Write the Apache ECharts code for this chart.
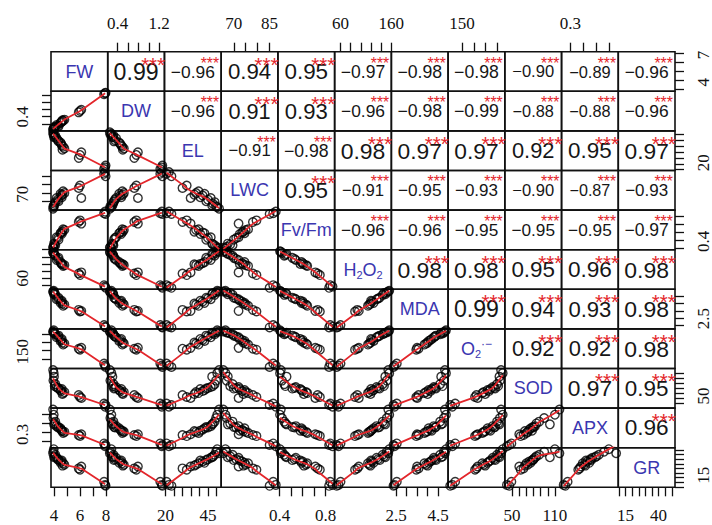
<!DOCTYPE html>
<html><head><meta charset="utf-8">
<script src="https://cdn.jsdelivr.net/npm/echarts@6/dist/echarts.min.js"></script>
<style>html,body{margin:0;padding:0;background:#fff}#c{width:712px;height:525px}</style>
</head><body><div id="c"></div>
<script>
// ---------------- data (21 samples) ----------------
const varNames = ['FW','DW','EL','LWC','Fv/Fm','H2O2','MDA','O2','SOD','APX','GR'];
const FW   = [7.85,7.93,7.97, 5.90,6.00,6.10, 4.80,4.70,4.65, 4.55,4.50,4.60, 4.30,4.20,4.35, 4.05,4.10,4.00, 3.93,3.98,3.95];
const DW   = [1.22,1.25,1.26, 0.72,0.76,0.79, 0.52,0.49,0.50, 0.45,0.43,0.47, 0.35,0.37,0.33, 0.31,0.32,0.30, 0.25,0.28,0.26];
const EL   = [20.6,22.0,23.5, 30.0,32.5,34.8, 38.0,39.5,37.0, 41.9,43.0,40.5, 45.0,46.7,44.0, 48.0,49.0,47.5, 51.6,50.5,49.8];
const LWC  = [86.5,87.6,85.0, 78.0,79.5,72.0, 75.0,76.0,74.0, 73.5,74.5,72.5, 71.0,72.0,70.0, 68.5,69.5,67.5, 65.6,66.5,67.0];
const FvFm = [0.84,0.86,0.83, 0.73,0.75,0.71, 0.63,0.64,0.61, 0.60,0.59,0.58, 0.53,0.54,0.51, 0.45,0.44,0.46, 0.41,0.403,0.42];
const H2O2 = [60,56,52.5, 93,88.5,96, 116.5,114,119, 122,125,120, 134,131,137, 145.5,143,148, 154,155.9,151];
const MDA  = [2.53,2.42,2.37, 3.57,3.46,3.50, 3.93,3.85,4.00, 4.14,4.05,4.20, 4.35,4.30,4.40, 4.72,4.60,4.65, 4.83,4.88,4.78];
const O2   = [121,109,100, 211,205,216, 242,236,248, 264,258,270, 285,280,290, 303,298,308, 315,322,310];
const SOD  = [49,42.7,46, 66,62,60, 72,70,68, 74,76,78, 80,82,79, 84,88,103, 116.4,110,95];
const APX  = [0.278,0.247,0.260, 0.371,0.360,0.380, 0.406,0.395,0.415, 0.430,0.446,0.420, 0.455,0.470,0.460, 0.500,0.520,0.490, 0.654,0.597,0.560];
const GR   = [15.5,12.1,11.1, 30.0,28.5,32.0, 34.0,35.5,33.0, 37.4,36.0,38.5, 40.0,41.5,39.0, 43.0,44.7,42.0, 46.4,50.8,48.0];
const columns = [FW, DW, EL, LWC, FvFm, H2O2, MDA, O2, SOD, APX, GR];

// tick values and the tick labels that are printed
const ticks = [
  [4,5,6,7,8], [0.4,0.6,0.8,1.0,1.2], [20,25,30,35,40,45,50], [70,75,80,85],
  [0.4,0.5,0.6,0.7,0.8], [60,80,100,120,140,160], [2.5,3,3.5,4,4.5], [150,200,250,300],
  [50,60,70,80,90,100,110], [0.3,0.4,0.5,0.6], [10,15,20,25,30,35,40,45,50]
];
const horizLabels = [[4,6,8],[0.4,1.2],[20,45],[70,85],[0.4,0.8],[60,160],[2.5,4.5],[150],[50,110],[0.3],[15,40]];
const vertLabels  = [[4,7],[0.4],[20],[70],[0.4],[60],[2.5],[150],[50],[0.3],[15]];

// correlation coefficients printed in the upper panels (row i, columns i+1..)
const corrRows = [
  [0.99,-0.96,0.94,0.95,-0.97,-0.98,-0.98,-0.90,-0.89,-0.96],
  [-0.96,0.91,0.93,-0.96,-0.98,-0.99,-0.88,-0.88,-0.96],
  [-0.91,-0.98,0.98,0.97,0.97,0.92,0.95,0.97],
  [0.95,-0.91,-0.95,-0.93,-0.90,-0.87,-0.93],
  [-0.96,-0.96,-0.95,-0.95,-0.95,-0.97],
  [0.98,0.98,0.95,0.96,0.98],
  [0.99,0.94,0.93,0.98],
  [0.92,0.92,0.98],
  [0.97,0.95],
  [0.96]
];
const signifRows = [
  ['***','***','***','***','***','***','***','***','***','***'],
  ['***','***','***','***','***','***','***','***','***'],
  ['***','***','***','***','***','***','***','***'],
  ['***','***','***','***','***','***','***'],
  ['***','***','***','***','***','***'],
  ['***','***','***','***','***'],
  ['***','***','***','***'],
  ['***','***','***'],
  ['***','***'],
  ['***']
];

// ---------------- layout ----------------
const N = 11;
const L = 51, T = 51.7, W = 624, H = 435.6;
const cw = W / N, ch = H / N;
const NAME_COLOR = '#3a36b0';
const RED = '#e3262b';

// R-style axis extent (4% padding)
function extent(a) {
  const mn = Math.min(...a), mx = Math.max(...a), d = mx - mn;
  return [mn - 0.04 * d, mx + 0.04 * d];
}
const ranges = columns.map(extent);

// R lowess (clowess port)
function lowest(x, y, n, xs, nleft, nright, rw, userw, range) {
  const h = Math.max(xs - x[nleft], x[nright] - xs);
  const h9 = 0.999 * h, h1 = 0.001 * h;
  const w = new Array(n).fill(0);
  let a = 0, j = nleft;
  while (j < n) {
    const r = Math.abs(x[j] - xs);
    if (r <= h9) {
      w[j] = r <= h1 ? 1 : Math.pow(1 - Math.pow(r / h, 3), 3);
      if (userw) w[j] *= rw[j];
      a += w[j];
    } else if (x[j] > xs) break;
    j++;
  }
  const nrt = j - 1;
  if (a <= 0) return null;
  for (j = nleft; j <= nrt; j++) w[j] /= a;
  if (h > 0) {
    a = 0;
    for (j = nleft; j <= nrt; j++) a += w[j] * x[j];
    let b = xs - a, c = 0;
    for (j = nleft; j <= nrt; j++) c += w[j] * (x[j] - a) * (x[j] - a);
    if (Math.sqrt(c) > 0.001 * range) {
      b /= c;
      for (j = nleft; j <= nrt; j++) w[j] *= (b * (x[j] - a) + 1);
    }
  }
  let s = 0;
  for (j = nleft; j <= nrt; j++) s += w[j] * y[j];
  return s;
}
function lowess(xIn, yIn, f, iter) {
  const n = xIn.length;
  const ord = xIn.map((v, i) => i).sort((a, b) => xIn[a] - xIn[b]);
  const x = ord.map(i => xIn[i]), y = ord.map(i => yIn[i]);
  const ns = Math.max(2, Math.min(n, Math.floor(f * n + 1e-7)));
  const range = x[n - 1] - x[0];
  const rw = new Array(n).fill(1), ys = new Array(n).fill(0);
  for (let it = 1; it <= iter + 1; it++) {
    let nleft = 0, nright = ns - 1;
    for (let i = 0; i < n; i++) {
      const xi = x[i];
      while (nright < n - 1) {
        const d1 = xi - x[nleft], d2 = x[nright + 1] - xi;
        if (d1 <= d2) break;
        nleft++; nright++;
      }
      const v = lowest(x, y, n, xi, nleft, nright, rw, it > 1, range);
      ys[i] = v === null ? y[i] : v;
    }
    if (it > iter) break;
    const absr = y.map((v, i) => Math.abs(v - ys[i]));
    const s = absr.slice().sort((a, b) => a - b);
    const m = Math.floor(n / 2);
    const med = n % 2 ? s[m] : (s[m - 1] + s[m]) / 2;
    const cmad = 6 * med;
    const sc = absr.reduce((a, b) => a + b, 0) / n;
    if (cmad < 1e-7 * sc) break;
    for (let i = 0; i < n; i++) {
      const r = absr[i];
      rw[i] = r <= 0.001 * cmad ? 1 : (r > 0.999 * cmad ? 0 : Math.pow(1 - Math.pow(r / cmad, 2), 2));
    }
  }
  return x.map((v, i) => [v, ys[i]]);
}

// ---------------- build option ----------------
const grids = [], xAxes = [], yAxes = [], series = [], graphics = [];
const labelFont = 'Liberation Serif';
for (let i = 0; i < N; i++) {
  for (let j = 0; j < N; j++) {
    const k = i * N + j;
    grids.push({
      left: L + j * cw, top: T + i * ch, width: cw, height: ch,
      show: true, borderColor: '#111', borderWidth: 1.6, backgroundColor: 'transparent',
      containLabel: false, outerBoundsMode: 'none'
    });
    const showX = (i === 0 && j % 2 === 1) || (i === N - 1 && j % 2 === 0);
    const showY = (j === 0 && i % 2 === 1) || (j === N - 1 && i % 2 === 0);
    xAxes.push({
      gridIndex: k, type: 'value', min: ranges[j][0], max: ranges[j][1],
      position: i === 0 ? 'top' : 'bottom',
      splitLine: { show: false }, axisLine: { show: false },
      axisTick: { show: showX, inside: false, length: 9, customValues: ticks[j], lineStyle: { color: '#111', width: 1.3 } },
      axisLabel: { show: showX, customValues: horizLabels[j], margin: 20, fontFamily: labelFont, fontSize: 17, color: '#111',
        formatter: v => String(v), hideOverlap: false, showMinLabel: true, showMaxLabel: true }
    });
    yAxes.push({
      gridIndex: k, type: 'value', min: ranges[i][0], max: ranges[i][1],
      position: j === 0 ? 'left' : 'right',
      splitLine: { show: false }, axisLine: { show: false },
      axisTick: { show: showY, inside: false, length: 9, customValues: ticks[i], lineStyle: { color: '#111', width: 1.3 } },
      axisLabel: { show: showY, customValues: vertLabels[i], margin: 20, rotate: 90, padding: [0, 0, 0, 14],
        fontFamily: labelFont, fontSize: 17, color: '#111',
        formatter: v => String(v), hideOverlap: false, showMinLabel: true, showMaxLabel: true }
    });
    const cx = L + (j + 0.5) * cw, cy = T + (i + 0.5) * ch;
    if (i > j) {
      const xs = columns[j], ys = columns[i];
      series.push({
        type: 'scatter', xAxisIndex: k, yAxisIndex: k, z: 2, silent: true,
        symbol: 'circle', symbolSize: 8.5,
        itemStyle: { color: 'rgba(0,0,0,0)', borderColor: '#000', borderWidth: 1.4 },
        data: xs.map((v, t) => [v, ys[t]])
      });
      series.push({
        type: 'line', xAxisIndex: k, yAxisIndex: k, z: 3, silent: true,
        showSymbol: false, smooth: false,
        lineStyle: { color: RED, width: 1.8 },
        data: lowess(xs, ys, 2 / 3, 3)
      });
    } else if (i === j) {
      const nm = varNames[i];
      let txt = '{n|' + nm + '}';
      if (nm === 'H2O2') txt = '{n|H}{s|2}{n|O}{s|2}';
      if (nm === 'O2') txt = '{n|O}{s|2}{p|·−}';
      graphics.push({
        type: 'text', x: cx, y: cy, z: 10,
        style: {
          text: txt, align: 'center', verticalAlign: 'middle',
          fontFamily: 'Liberation Sans', fontSize: 18, fill: NAME_COLOR,
          rich: {
            n: { fontFamily: 'Liberation Sans', fontSize: 18, lineHeight: 22, fill: NAME_COLOR },
            s: { fontFamily: 'Liberation Sans', fontSize: 11, lineHeight: 12, verticalAlign: 'bottom', fill: NAME_COLOR },
            p: { fontFamily: 'Liberation Sans', fontSize: 12, lineHeight: 12, verticalAlign: 'top', fill: NAME_COLOR }
          }
        }
      });
    } else {
      const r = corrRows[i][j - i - 1];
      const txt = (r < 0 ? '\u2212' : '') + Math.abs(r).toFixed(2);
      let em = 0;
      for (const c of txt) em += c === '.' ? 0.278 : (c === '\u2212' ? 0.584 : 0.556);
      const base = 0.8 * cw / em;
      const fs = base * (Math.abs(r) + 0.3) / 1.3;
      graphics.push({
        type: 'text', x: cx, y: cy, z: 10,
        style: { text: txt, align: 'center', verticalAlign: 'middle', fontFamily: 'Liberation Sans', fontSize: fs, fill: '#161616' }
      });
      const sfs = base * 0.88;
      graphics.push({
        type: 'text', x: L + (j + 0.8) * cw, y: T + i * ch + 0.2 * ch + 0.22 * sfs, z: 11,
        style: { text: signifRows[i][j - i - 1], align: 'center', verticalAlign: 'middle', fontFamily: 'Liberation Sans', fontSize: sfs, fill: RED }
      });
    }
  }
}

const chart = echarts.init(document.getElementById('c'), null, { renderer: 'svg', width: 712, height: 525 });
chart.setOption({
  animation: false,
  backgroundColor: '#ffffff',
  grid: grids, xAxis: xAxes, yAxis: yAxes, series: series, graphic: graphics
});
</script></body></html>
